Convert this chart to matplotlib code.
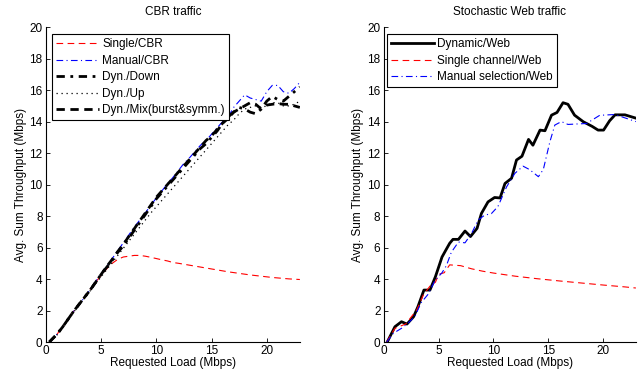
import matplotlib
matplotlib.use("Agg")
import matplotlib.pyplot as plt

plt.rcParams['font.family'] = ['Liberation Sans', 'DejaVu Sans']

# --- CBR traffic (left) ---
x_cbr = [0.3, 1, 1.5, 2, 2.5, 3, 3.5, 4, 4.5, 5, 5.5, 6, 6.5, 7, 7.5, 8, 8.5, 9, 9.5, 10,
         10.5, 11, 11.5, 12, 12.5, 13, 13.5, 14, 14.5, 15, 15.5, 16, 16.5, 17, 17.5, 18,
         18.5, 19, 19.5, 20, 20.5, 21, 21.5, 22, 22.5, 23]
single_cbr = [0, 0.5, 0.95, 1.45, 1.95, 2.4, 2.85, 3.35, 3.8, 4.25, 4.65, 5.0, 5.25, 5.4,
              5.45, 5.5, 5.5, 5.45, 5.38, 5.3, 5.22, 5.15, 5.05, 5.0, 4.94, 4.88, 4.82, 4.76,
              4.7, 4.64, 4.58, 4.52, 4.46, 4.41, 4.36, 4.31, 4.26, 4.22, 4.18, 4.14, 4.1,
              4.07, 4.04, 4.01, 3.99, 3.97]
manual_cbr = [0, 0.5, 0.95, 1.45, 1.95, 2.4, 2.85, 3.35, 3.85, 4.35, 4.8, 5.3, 5.8, 6.3,
              6.8, 7.3, 7.75, 8.2, 8.7, 9.15, 9.6, 10.05, 10.45, 10.9, 11.35, 11.7, 12.1,
              12.5, 12.8, 13.2, 13.6, 14.0, 14.3, 14.9, 15.3, 15.7, 15.5, 15.4, 15.3, 15.9,
              16.3, 16.3, 15.9, 15.8, 16.1, 16.5]
dyn_down = [0, 0.5, 0.95, 1.45, 1.95, 2.4, 2.85, 3.3, 3.8, 4.3, 4.75, 5.2, 5.7, 6.1, 6.6,
            7.1, 7.6, 8.1, 8.6, 9.1, 9.5, 9.9, 10.3, 10.7, 11.1, 11.5, 11.9, 12.3, 12.6,
            13.0, 13.4, 13.9, 14.3, 14.6, 14.9, 14.8, 14.6, 14.5, 14.8, 15.3, 15.6, 15.4,
            15.3, 15.6, 15.9, 16.2]
dyn_up = [0, 0.45, 0.9, 1.4, 1.9, 2.35, 2.8, 3.25, 3.7, 4.15, 4.6, 5.05, 5.5, 5.95, 6.4,
          6.85, 7.3, 7.75, 8.2, 8.6, 9.0, 9.4, 9.8, 10.2, 10.6, 11.0, 11.4, 11.8, 12.2,
          12.6, 13.0, 13.4, 13.8, 14.1, 14.5, 14.8, 14.9, 15.0, 14.9, 15.0, 15.2, 15.2,
          15.0, 15.0, 15.1, 15.3]
dyn_mix = [0, 0.5, 0.95, 1.45, 1.95, 2.4, 2.85, 3.3, 3.8, 4.3, 4.8, 5.25, 5.75, 6.2, 6.7,
           7.2, 7.7, 8.2, 8.7, 9.2, 9.6, 10.0, 10.4, 10.8, 11.2, 11.6, 12.0, 12.4, 12.8,
           13.1, 13.5, 13.9, 14.2, 14.6, 14.8, 15.0, 15.2, 15.1, 14.8, 15.05, 15.1, 15.15,
           15.1, 15.1, 15.0, 14.9]

# --- Stochastic Web traffic (right) ---
x_dyn_web = [0.3, 1.0, 1.6, 2.1, 2.7, 3.1, 3.65, 4.2, 4.7, 5.3, 5.7, 6.0, 6.3, 6.8, 7.4,
             7.9, 8.5, 8.9, 9.5, 10.1, 10.6, 11.05, 11.65, 12.1, 12.6, 13.2, 13.6, 14.25,
             14.7, 15.3, 15.8, 16.35, 16.8, 17.4, 18.2, 19.0, 19.55, 20.05, 20.6, 21.1,
             22.0, 23.0]
dyn_web = [0, 0.97, 1.29, 1.14, 1.6, 2.24, 3.3, 3.3, 4.15, 5.4, 5.9, 6.27, 6.52, 6.52,
           7.05, 6.7, 7.22, 8.17, 8.9, 9.18, 9.15, 10.07, 10.4, 11.56, 11.8, 12.87, 12.5,
           13.46, 13.42, 14.41, 14.58, 15.2, 15.1, 14.41, 13.99, 13.7, 13.46, 13.46,
           14.05, 14.43, 14.43, 14.22]
x_single_web = [0.25, 1.0, 2.0, 3.0, 3.6, 4.2, 4.7, 5.0, 5.5, 6.0, 7.0, 8.0, 9.0, 10.0,
                12.0, 14.0, 16.0, 18.0, 20.0, 22.0, 23.0]
single_web = [0, 0.87, 1.15, 2.05, 3.0, 3.55, 3.8, 4.3, 4.4, 4.9, 4.85, 4.65, 4.5, 4.38,
              4.18, 4.02, 3.88, 3.75, 3.62, 3.5, 3.43]
x_manual_web = [0.25, 0.85, 1.6, 2.2, 2.8, 3.4, 4.05, 4.65, 5.3, 5.7, 6.15, 6.8, 7.4, 8.0,
                8.6, 9.2, 9.8, 10.4, 11.2, 11.95, 12.7, 13.3, 14.1, 14.55, 15.15, 15.6,
                16.2, 16.8, 18.5, 19.7, 21.1, 23.0]
manual_web = [0, 0.55, 0.87, 1.2, 1.6, 2.5, 3.05, 3.9, 4.4, 4.85, 5.7, 6.35, 6.3, 6.9,
              7.75, 8.06, 8.15, 8.6, 9.86, 10.71, 11.17, 10.95, 10.5, 10.96, 12.72, 13.78,
              14.0, 13.82, 13.88, 14.4, 14.45, 14.0]

FS = 8.5


def style_axes(ax, title):
    ax.set_xlim(0, 23)
    ax.set_ylim(0, 20)
    ax.set_xticks([0, 5, 10, 15, 20])
    ax.set_yticks(range(0, 21, 2))
    ax.spines['top'].set_visible(False)
    ax.spines['right'].set_visible(False)
    ax.tick_params(direction='in', length=3, labelsize=FS, width=0.6, pad=2.5)
    for s in ('left', 'bottom'):
        ax.spines[s].set_linewidth(0.8)
    ax.set_title(title, fontsize=FS, pad=9)
    ax.set_xlabel('Requested Load (Mbps)', fontsize=FS, labelpad=0)
    ax.set_ylabel('Avg. Sum Throughput (Mbps)', fontsize=FS, labelpad=2)


def add_legend(ax, x0):
    leg = ax.legend(loc='upper left', fontsize=FS, handlelength=3.6, labelspacing=0.38,
                    borderpad=0.35, handletextpad=0.3, fancybox=False, framealpha=1,
                    edgecolor='black', borderaxespad=0, bbox_to_anchor=(x0, 0.978))
    leg.get_frame().set_linewidth(0.8)


fig = plt.figure(figsize=(6.41, 3.78), dpi=100)
ax1 = fig.add_axes([0.0718, 0.0952, 0.396, 0.833])
ax2 = fig.add_axes([0.599, 0.0952, 0.393, 0.833])

ax1.plot(x_cbr, single_cbr, color='red', ls=(0, (6, 4)), lw=0.8, label='Single/CBR')
ax1.plot(x_cbr, manual_cbr, color='blue', ls=(0, (6, 3, 1, 3)), lw=0.8, label='Manual/CBR')
ax1.plot(x_cbr, dyn_down, color='black', ls=(0, (3, 2, 1, 2)), lw=2, label='Dyn./Down')
ax1.plot(x_cbr, dyn_up, color='black', ls=(0, (1, 3)), lw=0.9, label='Dyn./Up')
ax1.plot(x_cbr, dyn_mix, color='black', ls=(0, (3, 2)), lw=2, label='Dyn./Mix(burst&symm.)')
style_axes(ax1, 'CBR traffic')
add_legend(ax1, 0.024)

ax2.plot(x_dyn_web, dyn_web, color='black', ls='-', lw=2, label='Dynamic/Web')
ax2.plot(x_single_web, single_web, color='red', ls=(0, (6, 4)), lw=0.8, label='Single channel/Web')
ax2.plot(x_manual_web, manual_web, color='blue', ls=(0, (6, 3, 1, 3)), lw=0.8,
         label='Manual selection/Web')
style_axes(ax2, 'Stochastic Web traffic')
add_legend(ax2, 0.012)

fig.savefig('out.png', dpi=100)
